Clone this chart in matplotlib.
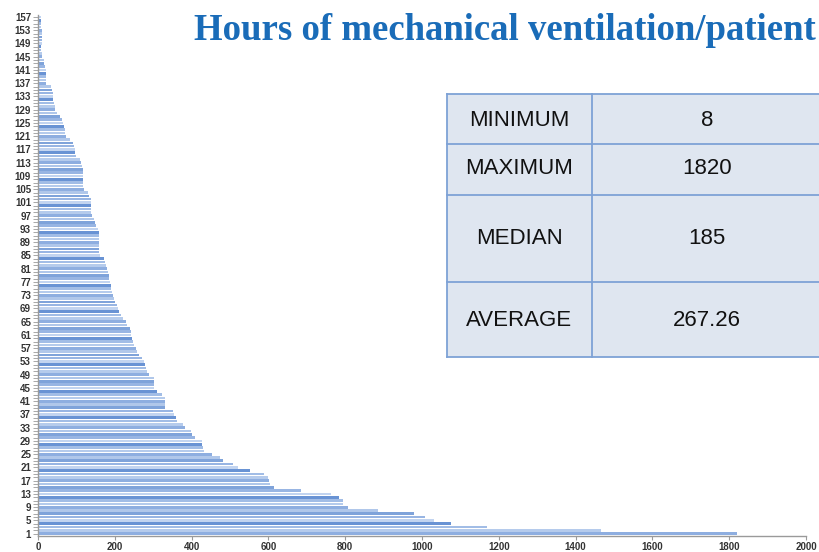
import matplotlib
matplotlib.use("Agg")
import matplotlib.pyplot as plt
from matplotlib.patches import Rectangle
from matplotlib.lines import Line2D

# ---- data ----
hours = [
    1820, 1465, 1170, 1075, 1030, 1008, 978, 886, 807, 794,
    794, 785, 763, 684, 614, 605, 601, 600, 588, 552,
    522, 507, 482, 474, 452, 431, 430, 428, 428, 408,
    401, 399, 382, 377, 362, 360, 355, 351, 331, 331,
    331, 331, 322, 311, 301, 301, 301, 301, 289, 285,
    281, 278, 276, 272, 263, 259, 255, 250, 248, 245,
    241, 241, 240, 232, 228, 222, 215, 210, 208, 205,
    200, 199, 196, 193, 191, 189, 188, 185, 185, 183,
    180, 178, 175, 173, 162, 160, 160, 160, 160, 160,
    160, 158, 155, 151, 148, 145, 140, 139, 139, 139,
    139, 137, 133, 129, 120, 118, 118, 118, 118, 118,
    118, 115, 112, 110, 99, 97, 96, 94, 90, 83,
    72, 70, 70, 68, 66, 62, 57, 50, 45, 44,
    42, 40, 40, 39, 36, 35, 22, 20, 20, 20,
    20, 18, 16, 15, 10, 10, 9, 9, 10, 10,
    10, 10, 10, 9, 9, 8, 8,
]
patients = list(range(1, len(hours) + 1))
ytick_labels = [str(p) if (p - 1) % 4 == 0 else '' for p in patients]
xticks = [0, 200, 400, 600, 800, 1000, 1200, 1400, 1600, 1800, 2000]

stat_names = ["MINIMUM", "MAXIMUM", "MEDIAN", "AVERAGE"]
stat_values = ["8", "1820", "185", "267.26"]

title = "Hours of mechanical ventilation/patient"

# ---- figure ----
W, H = 820, 552
fig = plt.figure(figsize=(W / 100, H / 100), dpi=100)

def fx(px):
    return px / W

def fy(py):
    return 1 - py / H

ax = fig.add_axes([fx(38), fy(536), fx(806) - fx(38), fy(15) - fy(536)])

shades = ['#8EAEE0', '#B5CBEC', '#A2BDE6', '#6993D4', '#C2D4F0', '#98B5E3', '#7FA3DA', '#B0C7EA']
colors = [shades[i % len(shades)] for i in range(len(hours))]
ax.barh(patients, hours, height=0.8, color=colors, edgecolor='none')

ax.set_xlim(0, 2000)
ax.set_ylim(0.3, 157.6)
ax.set_xticks(xticks)
ax.set_xticklabels([str(x) for x in xticks], fontsize=7, color='#333333',
                   family='Liberation Sans', fontweight='bold')
ax.set_yticks(patients)
ax.set_yticklabels(ytick_labels, fontsize=7, color='#333333',
                   family='Liberation Sans', fontweight='bold')
ax.tick_params(axis='y', length=3.5, width=0.6, color='#9a9a9a', pad=1.5)
ax.tick_params(axis='x', length=3, width=0.8, color='#9a9a9a', pad=1.5, direction='out')
for s in ['top', 'right']:
    ax.spines[s].set_visible(False)
for s in ['left', 'bottom']:
    ax.spines[s].set_color('#9a9a9a')
    ax.spines[s].set_linewidth(1.0)

# ---- title ----
fig.text(fx(816), fy(30), title, ha='right', va='center', fontsize=26.5,
         family='Liberation Serif', fontweight='bold', color='#1A6CB8')

# ---- stats table ----
tx0, tx1, tx2 = 447, 592, 819
rows_y = [94, 144, 195, 282, 357]
fig.patches.append(Rectangle((fx(tx0), fy(rows_y[-1])), fx(tx2) - fx(tx0),
                             fy(rows_y[0]) - fy(rows_y[-1]), transform=fig.transFigure,
                             facecolor='#DFE6F0', edgecolor='none', zorder=0))
lc = '#7EA2D6'
for yy in rows_y:
    fig.lines.append(Line2D([fx(tx0), fx(tx2)], [fy(yy), fy(yy)], transform=fig.transFigure,
                            color=lc, lw=1.3))
for xx in [tx0, tx1]:
    fig.lines.append(Line2D([fx(xx), fx(xx)], [fy(rows_y[0]), fy(rows_y[-1])],
                            transform=fig.transFigure, color=lc, lw=1.3))
row_centers = [120, 169, 238, 320]
for name, val, yc in zip(stat_names, stat_values, row_centers):
    fig.text(fx((tx0 + tx1) / 2), fy(yc), name, ha='center', va='center',
             fontsize=16, family='Liberation Sans', color='#111111')
    fig.text(fx(707), fy(yc), val, ha='center', va='center',
             fontsize=16, family='Liberation Sans', color='#111111')

fig.savefig('out.png', dpi=100)
